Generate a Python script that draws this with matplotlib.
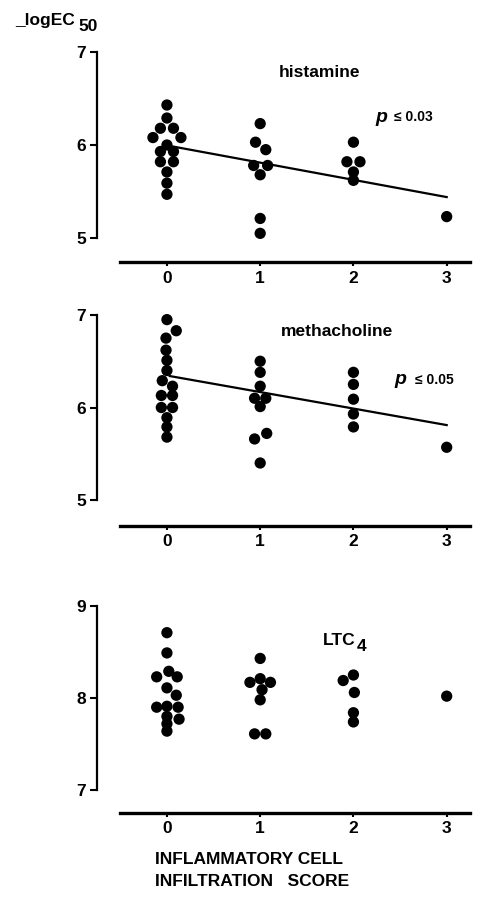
import matplotlib
matplotlib.use("Agg")
import matplotlib.pyplot as plt
from matplotlib.transforms import offset_copy

plt.rcParams['font.family'] = ['Liberation Sans', 'DejaVu Sans']

# inflammatory cell infiltration score (x) and -logEC50 values (y)
hist_x = [0, 0, 0, 0, 0, 0, 0, 0, 0, 0, 0, 0, 0, 0,
          1, 1, 1, 1, 1, 1, 1, 1,
          2, 2, 2, 2, 2,
          3]
hist_dx = [0, 0, -0.07, 0.07, -0.15, 0.15, 0, -0.07, 0.07, -0.07, 0.07, 0, 0, 0,
           0, -0.05, 0.06, -0.07, 0.08, 0, 0, 0,
           0, -0.07, 0.07, 0, 0,
           0]
hist_y = [6.43, 6.29, 6.18, 6.18, 6.08, 6.08, 6.00, 5.93, 5.93, 5.82, 5.82, 5.71, 5.59, 5.47,
          6.23, 6.03, 5.95, 5.78, 5.78, 5.68, 5.21, 5.05,
          6.03, 5.82, 5.82, 5.71, 5.62,
          5.23]
hist_fit_x = [0.03, 3.0]
hist_fit_y = [5.99, 5.44]

meth_x = [0] * 15 + [1] * 9 + [2] * 5 + [3]
meth_dx = [0, 0.1, -0.01, -0.01, 0, 0, -0.05, 0.06, -0.06, 0.06, -0.06, 0.06, 0, 0, 0,
           0, 0, 0, -0.06, 0.06, 0, -0.06, 0.07, 0,
           0, 0, 0, 0, 0,
           0]
meth_y = [6.95, 6.83, 6.75, 6.62, 6.51, 6.40, 6.29, 6.23, 6.13, 6.13, 6.00, 6.00, 5.89, 5.79, 5.68,
          6.50, 6.38, 6.23, 6.10, 6.10, 6.01, 5.66, 5.72, 5.40,
          6.38, 6.25, 6.09, 5.93, 5.79,
          5.57]
meth_fit_x = [0.03, 3.0]
meth_fit_y = [6.34, 5.81]

ltc_x = [0] * 14 + [1] * 8 + [2] * 5 + [3]
ltc_dx = [0, 0, 0.02, -0.11, 0.11, 0, 0.1, -0.11, 0, 0.12, 0.13, 0, 0, 0,
          0, -0.11, 0.11, 0, 0.02, 0, -0.06, 0.06,
          -0.11, 0, 0.01, 0, 0,
          0]
ltc_y = [8.71, 8.49, 8.29, 8.23, 8.23, 8.11, 8.03, 7.90, 7.91, 7.90, 7.77, 7.80, 7.72, 7.64,
         8.43, 8.17, 8.17, 8.21, 8.09, 7.98, 7.61, 7.61,
         8.19, 8.25, 8.06, 7.84, 7.74,
         8.02]

x_ticks = [0, 1, 2, 3]

W, H = 483, 900
fig = plt.figure(figsize=(W / 100, H / 100), dpi=100)


def panel(top_px, scale, lo, yticks):
    # axes placed so that yticks[-1] sits at top_px, scale px per unit
    top = top_px - 0.05 * scale
    bottom = top_px + (yticks[-1] - lo) * scale
    left, right = 97, 470
    ax = fig.add_axes([left / W, 1 - bottom / H, (right - left) / W, (bottom - top) / H])
    ax.set_xlim(-0.75, 3.25)
    ax.set_ylim(lo, yticks[-1] + 0.05)
    for s in ['top', 'right']:
        ax.spines[s].set_visible(False)
    ax.spines['left'].set_bounds(yticks[0], yticks[-1])
    ax.spines['left'].set_linewidth(1.6)
    ax.spines['bottom'].set_bounds(-0.5, 3.25)
    ax.spines['bottom'].set_linewidth(2.4)
    ax.set_yticks(yticks)
    ax.set_yticklabels([str(t) for t in yticks], fontsize=12.5, fontweight='bold')
    ax.set_xticks(x_ticks)
    ax.set_xticklabels([str(t) for t in x_ticks], fontsize=12.5, fontweight='bold')
    ax.tick_params(axis='y', direction='out', length=5, width=1.5, pad=3)
    ax.tick_params(axis='x', direction='out', length=3, width=1.5, pad=3)
    return ax


def dots(ax, xs, dxs, ys):
    ax.scatter([a + b for a, b in zip(xs, dxs)], ys, s=66, c='black',
               edgecolors='none', zorder=3, clip_on=False)


def with_sub(host, x, y, base, sub, transform, drop=5, gap=1, **kw):
    # base text, then a full-size lowered "subscript" right after it
    t = host.text(x, y, base, transform=transform, va='center', **kw)
    fig.canvas.draw()
    w = t.get_window_extent().width * 72 / fig.dpi
    tr = offset_copy(transform, fig=fig, x=w + gap, y=-drop, units='points')
    host.text(x, y, sub, transform=tr, va='center', **kw)


bold = dict(fontsize=12.5, fontweight='bold')

ax1 = panel(52, 93, 4.74, [5, 6, 7])
dots(ax1, hist_x, hist_dx, hist_y)
ax1.plot(hist_fit_x, hist_fit_y, color='black', lw=1.6)
ax1.text(1.2, 6.78, 'histamine', va='center', **bold)
ax1.text(2.24, 6.30, 'p', fontsize=14, fontweight='bold', style='italic', va='center')
ax1.text(2.44, 6.30, '\u2264 0.03', fontsize=10, fontweight='bold', va='center')

ax2 = panel(315, 92.5, 4.72, [5, 6, 7])
dots(ax2, meth_x, meth_dx, meth_y)
ax2.plot(meth_fit_x, meth_fit_y, color='black', lw=1.6)
ax2.text(1.22, 6.82, 'methacholine', va='center', **bold)
ax2.text(2.44, 6.30, 'p', fontsize=14, fontweight='bold', style='italic', va='center')
ax2.text(2.66, 6.30, '\u2264 0.05', fontsize=10, fontweight='bold', va='center')

ax3 = panel(606, 92, 6.75, [7, 8, 9])
dots(ax3, ltc_x, ltc_dx, ltc_y)
with_sub(ax3, 1.67, 8.62, 'LTC', '4', ax3.transData, drop=4, gap=1, **bold)

with_sub(fig, 15 / W, 1 - 21 / H, '_logEC', '50', fig.transFigure, drop=4, gap=3, **bold)

fig.text(155 / W, 1 - 860 / H, 'INFLAMMATORY CELL', va='center', **bold)
fig.text(155 / W, 1 - 881 / H, 'INFILTRATION   SCORE', va='center', **bold)

fig.savefig('out.png', dpi=100, facecolor='white')
